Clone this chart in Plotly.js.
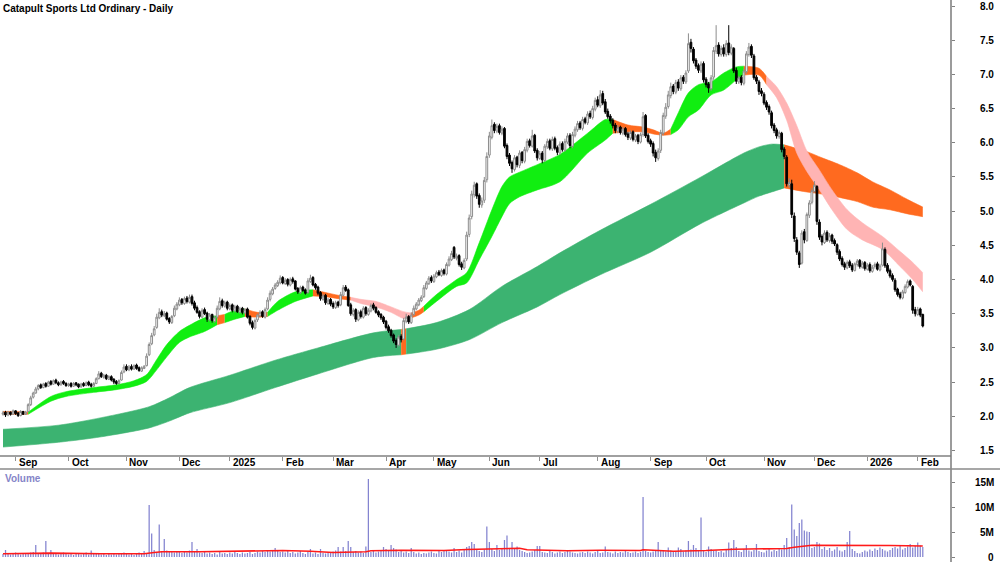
<!DOCTYPE html>
<html><head><meta charset="utf-8">
<script src="https://cdn.plot.ly/plotly-3.0.1.min.js"></script>
<style>html,body{margin:0;padding:0;background:#fff}#chart{width:1000px;height:562px}</style>
</head><body><div id="chart"></div>
<script>
// ---- Daily OHLC (A$), one value per trading day from 26 Aug 2024 ----
const openP = [
2.03,2.06,2.02,2.06,2.03,2.08,2.05,2.01,2.07,2.03,
2.07,2.17,2.28,2.34,2.40,2.46,2.42,2.48,2.44,2.51,
2.47,2.53,2.49,2.46,2.51,2.48,2.45,2.48,2.44,2.49,
2.47,2.43,2.48,2.45,2.50,2.47,2.44,2.48,2.55,2.63,
2.57,2.60,2.54,2.58,2.54,2.51,2.48,2.53,2.65,2.73,
2.68,2.73,2.69,2.75,2.71,2.66,2.70,2.74,2.90,3.06,
3.19,3.30,3.44,3.53,3.47,3.51,3.43,3.37,3.47,3.57,
3.63,3.71,3.65,3.73,3.67,3.75,3.66,3.59,3.53,3.45,
3.56,3.51,3.41,3.49,3.39,3.45,3.57,3.69,3.61,3.67,
3.57,3.63,3.54,3.61,3.52,3.58,3.51,3.57,3.46,3.37,
3.29,3.41,3.47,3.53,3.45,3.57,3.71,3.79,3.87,3.91,
3.95,4.03,3.94,4.00,3.92,4.01,3.98,3.87,3.81,3.89,
3.85,3.81,3.97,4.03,3.93,3.89,3.81,3.71,3.77,3.65,
3.71,3.65,3.59,3.67,3.63,3.77,3.89,3.85,3.63,3.49,
3.56,3.41,3.53,3.45,3.59,3.49,3.54,3.63,3.59,3.53,
3.49,3.45,3.39,3.31,3.26,3.19,3.11,3.04,3.17,3.13,
3.39,3.46,3.37,3.49,3.57,3.63,3.69,3.75,3.87,3.94,
4.03,3.97,4.04,4.11,4.06,4.14,4.08,4.21,4.29,4.47,
4.31,4.35,4.23,4.17,4.30,4.66,4.92,5.24,5.40,5.23,
5.09,5.16,5.46,5.82,6.08,6.27,6.17,6.25,6.14,6.21,
5.96,5.82,5.71,5.61,5.79,5.67,5.86,5.73,5.89,6.03,
5.95,6.11,5.89,5.77,5.85,5.74,5.94,6.03,5.91,6.06,
5.93,5.85,5.99,5.89,6.01,6.11,5.95,6.11,6.19,6.29,
6.21,6.35,6.29,6.43,6.37,6.49,6.63,6.54,6.72,6.60,
6.46,6.39,6.33,6.26,6.17,6.23,6.14,6.21,6.13,6.07,
6.16,6.04,6.11,6.01,6.12,6.40,6.11,6.03,5.99,5.86,
5.77,5.89,6.14,6.39,6.53,6.69,6.83,6.74,6.89,6.79,
6.96,6.89,7.05,7.47,7.37,7.21,7.13,7.05,7.16,6.93,
6.86,6.79,6.96,7.34,7.43,7.29,7.39,7.29,7.46,7.31,
7.38,7.06,6.89,6.96,6.87,7.04,7.29,7.41,7.27,6.96,
6.89,6.76,6.71,6.59,6.53,6.44,6.26,6.19,6.09,6.14,
5.91,5.79,5.38,5.40,4.93,4.58,4.39,4.24,4.70,4.57,
4.94,5.13,5.29,5.36,4.84,4.63,4.54,4.69,4.57,4.65,
4.57,4.51,4.41,4.31,4.23,4.17,4.26,4.21,4.13,4.22,
4.28,4.18,4.25,4.15,4.22,4.12,4.19,4.23,4.14,4.21,
4.44,4.21,4.13,4.06,3.99,3.86,3.79,3.73,3.81,3.89,
3.98,3.90,3.56,3.49,3.57,3.49];
const highP = [
2.08,2.08,2.08,2.07,2.10,2.09,2.06,2.09,2.08,2.08,
2.19,2.30,2.36,2.43,2.47,2.48,2.49,2.50,2.52,2.53,
2.54,2.55,2.51,2.52,2.53,2.50,2.49,2.50,2.50,2.50,
2.48,2.49,2.50,2.51,2.52,2.49,2.50,2.57,2.66,2.65,
2.62,2.62,2.60,2.60,2.56,2.53,2.54,2.67,2.76,2.76,
2.75,2.76,2.76,2.77,2.73,2.73,2.75,2.92,3.08,3.22,
3.32,3.50,3.58,3.56,3.54,3.53,3.45,3.48,3.62,3.67,
3.74,3.73,3.75,3.76,3.78,3.78,3.69,3.62,3.55,3.58,
3.59,3.53,3.51,3.50,3.47,3.62,3.74,3.72,3.69,3.69,
3.65,3.65,3.63,3.63,3.60,3.60,3.58,3.59,3.48,3.40,
3.43,3.50,3.55,3.55,3.59,3.74,3.84,3.89,3.95,3.99,
4.06,4.05,4.02,4.02,4.03,4.04,3.99,3.89,3.91,3.91,
3.87,4.02,4.07,4.05,3.95,3.91,3.83,3.79,3.79,3.73,
3.73,3.68,3.69,3.69,3.82,3.92,3.92,3.87,3.66,3.58,
3.58,3.55,3.56,3.61,3.61,3.58,3.65,3.66,3.61,3.55,
3.51,3.47,3.41,3.34,3.28,3.21,3.14,3.19,3.20,3.44,
3.50,3.48,3.52,3.62,3.67,3.73,3.77,3.92,3.98,4.05,
4.06,4.08,4.13,4.14,4.16,4.16,4.25,4.34,4.42,4.49,
4.38,4.37,4.26,4.31,4.70,4.95,5.30,5.43,5.42,5.26,
5.20,5.50,5.86,6.16,6.34,6.30,6.28,6.28,6.24,6.23,
5.99,5.85,5.74,5.82,5.81,5.89,5.88,5.94,6.06,6.06,
6.19,6.13,5.92,5.88,5.88,5.98,6.06,6.06,6.09,6.09,
5.96,6.02,6.02,6.06,6.14,6.14,6.16,6.24,6.32,6.32,
6.38,6.38,6.46,6.47,6.54,6.66,6.68,6.77,6.76,6.64,
6.50,6.42,6.36,6.29,6.26,6.25,6.23,6.23,6.16,6.18,
6.18,6.13,6.13,6.15,6.45,6.42,6.14,6.06,6.02,5.90,
5.92,6.19,6.44,6.58,6.76,6.88,6.86,6.92,6.93,6.99,
6.99,7.06,7.60,7.52,7.40,7.24,7.16,7.19,7.19,6.96,
6.89,6.99,7.40,7.72,7.47,7.42,7.44,7.50,7.72,7.44,
7.40,7.10,6.98,6.99,7.08,7.34,7.46,7.44,7.30,6.99,
6.92,6.80,6.74,6.62,6.56,6.47,6.29,6.22,6.18,6.16,
5.94,5.82,5.48,5.46,4.98,4.62,4.42,4.72,4.74,4.98,
5.16,5.34,5.44,5.38,4.88,4.66,4.72,4.72,4.68,4.67,
4.60,4.53,4.44,4.34,4.26,4.28,4.29,4.24,4.25,4.30,
4.30,4.27,4.27,4.24,4.25,4.21,4.25,4.26,4.23,4.54,
4.47,4.24,4.16,4.09,4.02,3.88,3.82,3.85,3.93,4.00,
4.00,3.92,3.60,3.60,3.59,3.50];
const lowP = [
2.01,1.99,2.00,2.01,2.02,2.02,1.99,2.00,2.02,2.02,
2.06,2.15,2.26,2.33,2.38,2.40,2.41,2.42,2.43,2.45,
2.46,2.47,2.44,2.45,2.46,2.43,2.43,2.42,2.43,2.44,
2.41,2.42,2.43,2.44,2.44,2.42,2.43,2.47,2.54,2.56,
2.55,2.53,2.53,2.51,2.47,2.46,2.47,2.52,2.63,2.66,
2.66,2.67,2.68,2.68,2.65,2.65,2.69,2.73,2.88,3.04,
3.17,3.28,3.42,3.45,3.45,3.40,3.35,3.35,3.45,3.55,
3.61,3.63,3.63,3.65,3.65,3.62,3.55,3.50,3.43,3.44,
3.48,3.38,3.39,3.37,3.37,3.43,3.55,3.59,3.59,3.55,
3.55,3.52,3.52,3.51,3.50,3.49,3.49,3.43,3.33,3.27,
3.27,3.38,3.45,3.44,3.43,3.55,3.68,3.77,3.85,3.89,
3.93,3.93,3.92,3.90,3.90,3.94,3.84,3.79,3.79,3.82,
3.78,3.79,3.95,3.90,3.85,3.77,3.69,3.69,3.63,3.63,
3.61,3.57,3.57,3.59,3.61,3.75,3.82,3.60,3.47,3.46,
3.38,3.39,3.43,3.43,3.47,3.47,3.52,3.55,3.50,3.45,
3.41,3.35,3.27,3.22,3.15,3.07,3.00,3.02,3.08,3.11,
3.36,3.35,3.35,3.47,3.55,3.61,3.67,3.73,3.85,3.92,
3.95,3.95,4.02,4.05,4.04,4.06,4.06,4.19,4.27,4.30,
4.28,4.19,4.14,4.15,4.27,4.62,4.88,5.20,5.18,5.05,
5.05,5.12,5.42,5.78,6.05,6.14,6.14,6.12,6.11,5.92,
5.76,5.66,5.56,5.58,5.64,5.63,5.70,5.70,5.86,5.93,
5.93,5.85,5.74,5.75,5.70,5.72,5.91,5.89,5.88,5.89,
5.82,5.82,5.87,5.87,5.98,5.92,5.92,6.08,6.16,6.19,
6.18,6.27,6.26,6.35,6.34,6.46,6.52,6.51,6.55,6.42,
6.35,6.28,6.21,6.14,6.14,6.12,6.11,6.09,6.04,6.04,
6.02,6.01,5.98,5.99,6.09,6.07,5.99,5.94,5.80,5.72,
5.74,5.85,6.11,6.35,6.50,6.65,6.71,6.71,6.76,6.76,
6.86,6.86,7.02,7.32,7.16,7.08,7.02,7.02,6.88,6.81,
6.73,6.76,6.92,7.30,7.26,7.26,7.26,7.26,7.28,7.28,
7.02,6.86,6.86,6.84,6.84,7.01,7.26,7.24,6.92,6.86,
6.70,6.68,6.55,6.48,6.41,6.21,6.14,6.06,6.06,5.86,
5.76,5.36,5.34,4.90,4.55,4.36,4.17,4.22,4.53,4.55,
4.90,5.10,5.27,4.80,4.58,4.50,4.52,4.55,4.54,4.52,
4.49,4.36,4.27,4.19,4.14,4.15,4.17,4.11,4.12,4.19,
4.16,4.16,4.13,4.13,4.10,4.10,4.16,4.13,4.12,4.19,
4.17,4.09,4.02,3.97,3.82,3.75,3.71,3.71,3.79,3.87,
3.90,3.50,3.46,3.47,3.45,3.30];
const closeP = [
2.05,2.02,2.06,2.03,2.08,2.04,2.01,2.07,2.03,2.06,
2.17,2.27,2.34,2.40,2.45,2.42,2.47,2.44,2.50,2.47,
2.52,2.49,2.46,2.50,2.48,2.45,2.47,2.44,2.48,2.46,
2.43,2.47,2.45,2.49,2.46,2.44,2.48,2.55,2.62,2.58,
2.60,2.55,2.58,2.53,2.50,2.48,2.52,2.64,2.72,2.68,
2.72,2.69,2.74,2.70,2.67,2.71,2.73,2.88,3.05,3.18,
3.28,3.45,3.52,3.48,3.50,3.42,3.38,3.46,3.58,3.64,
3.70,3.66,3.72,3.68,3.74,3.65,3.58,3.52,3.46,3.55,
3.50,3.42,3.48,3.40,3.44,3.58,3.68,3.62,3.66,3.58,
3.62,3.55,3.60,3.53,3.57,3.52,3.56,3.45,3.36,3.30,
3.40,3.48,3.52,3.46,3.56,3.70,3.80,3.86,3.92,3.96,
4.02,3.95,3.99,3.93,4.00,3.97,3.86,3.82,3.88,3.84,
3.80,3.98,4.02,3.92,3.88,3.80,3.72,3.76,3.66,3.70,
3.64,3.60,3.66,3.62,3.78,3.88,3.84,3.62,3.50,3.55,
3.42,3.52,3.46,3.58,3.50,3.55,3.62,3.58,3.52,3.48,
3.44,3.38,3.30,3.25,3.18,3.10,3.05,3.16,3.12,3.40,
3.45,3.38,3.48,3.58,3.64,3.70,3.74,3.88,3.95,4.02,
3.98,4.05,4.10,4.07,4.13,4.09,4.22,4.30,4.38,4.33,
4.34,4.22,4.18,4.28,4.65,4.90,5.25,5.38,5.22,5.10,
5.15,5.45,5.80,6.10,6.25,6.18,6.24,6.15,6.20,5.95,
5.80,5.70,5.62,5.78,5.68,5.85,5.74,5.90,6.02,5.96,
6.10,5.88,5.78,5.84,5.75,5.95,6.02,5.92,6.05,5.92,
5.86,5.98,5.90,6.02,6.10,5.96,6.12,6.20,6.28,6.22,
6.34,6.30,6.42,6.38,6.50,6.62,6.55,6.70,6.58,6.45,
6.38,6.32,6.25,6.18,6.22,6.15,6.20,6.12,6.08,6.15,
6.05,6.10,6.02,6.12,6.38,6.10,6.02,5.98,5.85,5.78,
5.88,6.15,6.40,6.52,6.70,6.82,6.75,6.88,6.80,6.95,
6.90,7.02,7.45,7.38,7.20,7.12,7.06,7.15,6.92,6.85,
6.80,6.95,7.35,7.42,7.30,7.38,7.30,7.45,7.32,7.40,
7.05,6.90,6.95,6.88,7.05,7.30,7.40,7.28,6.95,6.90,
6.75,6.72,6.58,6.52,6.45,6.25,6.18,6.10,6.15,5.90,
5.80,5.40,5.42,4.95,4.60,4.40,4.22,4.68,4.58,4.95,
5.12,5.30,5.38,4.85,4.62,4.55,4.68,4.58,4.64,4.56,
4.52,4.40,4.30,4.22,4.18,4.25,4.20,4.14,4.23,4.27,
4.19,4.24,4.16,4.21,4.13,4.18,4.22,4.15,4.20,4.45,
4.20,4.12,4.05,4.00,3.85,3.78,3.74,3.82,3.90,3.97,
3.92,3.55,3.50,3.56,3.48,3.32];
// ---- Daily volume, millions of shares ----
const volumeM = [
0.6,1.4,0.8,0.5,0.7,0.9,0.6,0.5,0.8,0.6,
0.7,0.9,1.0,2.4,0.8,0.6,0.9,3.2,0.7,1.4,
0.6,0.8,0.5,0.7,0.9,0.6,0.5,0.8,0.4,0.6,
0.7,0.5,0.6,0.9,0.5,1.3,0.7,0.6,0.8,0.5,
0.6,0.4,0.7,0.5,0.6,0.5,0.8,0.6,0.9,0.7,
0.5,0.6,0.4,0.7,0.9,0.6,1.2,0.8,10.4,4.7,
1.4,0.9,6.5,1.2,3.6,1.3,1.1,1.2,0.9,1.0,
1.2,0.8,1.1,0.9,1.3,3.0,1.2,1.6,0.9,0.8,
1.1,0.7,0.9,0.6,0.8,0.5,1.0,0.7,0.8,0.6,
0.9,0.7,1.1,0.8,0.6,0.9,0.7,0.8,1.0,0.6,
0.8,1.1,0.9,1.2,1.0,1.3,1.1,1.4,1.8,1.2,
1.0,1.1,0.9,1.3,0.8,1.0,0.7,0.9,1.2,0.8,
0.6,1.0,1.6,0.7,0.9,0.6,1.6,0.8,0.7,0.9,
1.0,1.1,1.3,2.0,1.1,2.0,1.2,3.2,2.0,1.0,
1.2,0.9,1.1,0.8,2.1,15.6,1.0,1.2,0.9,1.1,
1.3,2.0,1.6,1.4,2.4,1.8,1.5,1.0,1.3,0.9,
1.1,0.8,1.8,1.0,0.7,0.9,0.6,0.8,0.7,0.9,
1.1,0.8,0.7,1.2,1.0,1.4,1.2,1.1,0.9,1.8,
1.0,1.3,0.9,1.6,2.0,2.2,3.0,2.6,1.4,1.2,
1.0,1.5,6.1,3.0,1.6,1.2,2.4,1.4,1.8,3.4,
4.3,1.8,3.0,1.6,2.1,1.4,1.2,1.0,0.8,0.9,
1.1,1.4,2.2,2.2,1.0,0.9,0.8,1.2,1.0,0.7,
0.9,1.1,0.8,1.0,1.2,1.1,0.9,0.8,0.7,0.9,
1.0,0.8,1.1,0.9,0.7,1.0,1.2,0.8,0.9,2.1,
1.0,0.9,0.7,1.1,0.8,1.0,0.9,1.2,1.0,0.8,
0.9,1.1,0.8,1.0,12.0,1.2,1.0,0.9,1.1,1.3,
3.0,1.2,1.4,1.1,1.9,1.3,1.0,1.2,1.9,1.6,
1.1,1.3,3.2,1.5,2.4,1.8,1.2,7.9,1.4,1.0,
2.1,1.6,1.2,1.3,1.0,1.2,0.9,1.4,2.9,1.8,
3.4,2.0,1.2,1.0,1.6,2.4,1.3,1.1,1.4,2.6,
1.2,1.0,0.9,1.3,1.6,1.1,1.4,1.2,1.8,1.5,
2.4,3.8,2.0,10.5,5.5,4.2,6.8,7.5,5.3,5.1,
5.0,1.8,2.0,3.0,2.7,1.6,2.0,1.4,1.8,1.2,
1.5,2.0,1.3,1.1,1.4,3.0,5.2,1.6,1.2,0.8,
0.7,1.0,1.3,1.1,1.5,1.2,1.7,1.4,1.9,1.6,
1.3,1.1,1.4,1.8,2.0,1.7,2.4,1.5,1.8,2.1,
2.6,1.9,2.2,2.9,2.3,2.0];
// ---- Volume moving average (red line), read at sample days ----
const volMaIdx = [0,19,39,56,60,63,78,91,111,122,131,144,146,158,175,184,195,205,208,224,237,253,254,266,279,290,311,314,321,339,352,365];
const volMa    = [0.65,0.78,0.65,0.65,0.9,1.05,1.05,1.1,1.3,1.15,0.9,1.05,1.25,1.35,1.3,1.5,1.6,1.75,1.45,1.25,1.35,1.3,1.45,1.15,1.3,1.55,1.7,1.95,2.35,2.4,2.3,2.2];
// ---- Short-term MMA ribbon (upper / lower edge), g=bull, o=mixed, p=bear ----
const shortIdx   = [0,5,10,19,25,36,45,52,57,61,65,70,74,80,85,88,92,96,101,105,109,116,123,128,133,138,142,148,154,159,162,165,167,172,180,184,189,194,198,201,205,212,221,232,239,242,248,254,258,262,265,268,272,276,281,286,291,294,300,303,307,311,315,319,324,329,335,341,349,356,361,365];
const shortUpper = [2.07,2.07,2.06,2.29,2.36,2.42,2.46,2.52,2.61,2.83,3.05,3.24,3.33,3.44,3.47,3.49,3.55,3.57,3.52,3.52,3.68,3.82,3.85,3.81,3.77,3.74,3.71,3.68,3.60,3.53,3.51,3.55,3.61,3.78,4.00,4.10,4.54,5.02,5.36,5.50,5.57,5.68,5.83,6.14,6.34,6.34,6.26,6.23,6.19,6.14,6.20,6.44,6.73,6.85,6.89,7.02,7.11,7.12,7.09,6.97,6.82,6.58,6.25,5.88,5.60,5.31,5.02,4.83,4.63,4.41,4.25,4.10];
const shortLower = [2.03,2.03,2.03,2.22,2.29,2.35,2.39,2.44,2.51,2.68,2.87,3.08,3.16,3.24,3.34,3.37,3.42,3.46,3.45,3.46,3.55,3.68,3.76,3.75,3.72,3.70,3.65,3.60,3.52,3.43,3.44,3.48,3.53,3.68,3.90,3.95,4.29,4.63,4.92,5.11,5.21,5.31,5.43,5.85,6.04,6.14,6.16,6.16,6.13,6.11,6.12,6.19,6.38,6.48,6.70,6.77,6.92,6.99,6.99,6.85,6.66,6.33,5.85,5.58,5.31,5.02,4.73,4.58,4.44,4.19,4.00,3.82];
const shortState = ['o','o','g','g','g','g','g','g','g','g','g','g','g','g','o','g','g','o','o','g','g','g','o','o','o','p','p','p','p','p','o','o','g','g','g','g','g','g','g','g','g','g','g','g','g','o','o','o','o','o','g','g','g','g','g','g','g','o','o','p','p','p','p','p','p','p','p','p','p','p','p',''];
// ---- Long-term MMA ribbon ----
const longIdx   = [0,22,39,58,66,74,90,108,125,147,158,160,172,185,198,212,221,237,257,277,294,300,305,310,319,325,332,339,345,352,359,365];
const longUpper = [1.81,1.87,1.98,2.14,2.27,2.42,2.60,2.82,3.00,3.22,3.27,3.28,3.37,3.56,3.90,4.19,4.39,4.72,5.10,5.50,5.85,5.94,5.98,5.97,5.87,5.78,5.68,5.56,5.43,5.31,5.17,5.06];
const longLower = [1.55,1.62,1.70,1.83,1.93,2.05,2.20,2.42,2.62,2.86,2.90,2.91,2.98,3.12,3.37,3.60,3.78,4.07,4.40,4.82,5.12,5.22,5.28,5.34,5.28,5.25,5.20,5.14,5.06,5.02,4.96,4.92];
const longState = ['g','g','g','g','g','g','g','g','g','g','o','g','g','g','g','g','g','g','g','g','g','g','g','o','o','o','o','o','o','o','o',''];
// ---- Axis ticks / labels ----
const monthStartIdx = [5,26,49,70,90,111,131,152,171,193,213,236,257,279,302,322,343,363];
const monthLabels = ['Sep','Oct','Nov','Dec','2025','Feb','Mar','Apr','May','Jun','Jul','Aug','Sep','Oct','Nov','Dec','2026','Feb'];
const priceTicks = [1.5,2.0,2.5,3.0,3.5,4.0,4.5,5.0,5.5,6.0,6.5,7.0,7.5,8.0];
const volTicks = [0,5,10,15];
const volTickText = ['0','5M','10M','15M'];

const W = 1000, H = 562, PLOT_R = 951;
const px = y => 1 - y / H;              // pixel row -> paper fraction
const dayIdx = closeP.map((_, i) => i);
const XR = [-1.19, 376.2];
const PR = [1.434, 8.088];
const VR = [-1.0, 17.6];

function ribbon(idx, up, lo, st, colors, yaxis) {
  const out = [];
  let k = 0;
  while (k < idx.length - 1) {
    const s = st[k];
    let e = k;
    while (e < idx.length - 1 && st[e] === s) e++;
    const xs = idx.slice(k, e + 1);
    out.push({type:'scatter', mode:'lines', x:xs, y:lo.slice(k, e + 1), xaxis:'x', yaxis:yaxis,
      line:{width:0.6, color:colors[s], shape:'spline', smoothing:0.8}, hoverinfo:'skip', showlegend:false});
    out.push({type:'scatter', mode:'lines', x:xs, y:up.slice(k, e + 1), xaxis:'x', yaxis:yaxis,
      line:{width:0.6, color:colors[s], shape:'spline', smoothing:0.8}, fill:'tonexty', fillcolor:colors[s],
      hoverinfo:'skip', showlegend:false});
    k = e;
  }
  return out;
}

const traces = [];
traces.push(...ribbon(longIdx, longUpper, longLower, longState, {g:'#3cb371', o:'#ff6a1f'}, 'y'));
traces.push(...ribbon(shortIdx, shortUpper, shortLower, shortState, {g:'#11ee11', o:'#ff6a1f', p:'#ffb4b4'}, 'y'));
traces.push({type:'candlestick', x:dayIdx, open:openP, high:highP, low:lowP, close:closeP,
  xaxis:'x', yaxis:'y2', whiskerwidth:0,
  increasing:{line:{color:'#8c8c8c', width:1}, fillcolor:'#ffffff'},
  decreasing:{line:{color:'#000000', width:1}, fillcolor:'#000000'},
  hoverinfo:'skip', showlegend:false});
traces.push({type:'bar', x:dayIdx, y:volumeM, xaxis:'x2', yaxis:'y3', width:0.5,
  marker:{color:'#8484d0', line:{width:0}}, hoverinfo:'skip', showlegend:false});
traces.push({type:'scatter', mode:'lines', x:volMaIdx, y:volMa, xaxis:'x2', yaxis:'y3',
  line:{color:'#ff1a1a', width:1.6}, hoverinfo:'skip', showlegend:false});

const annotations = [];
monthStartIdx.forEach((ix, k) => annotations.push({xref:'x', yref:'paper', x:ix, y:px(462),
  text:'<b>' + monthLabels[k] + '</b>', xanchor:'left', yanchor:'middle', xshift:1, showarrow:false,
  font:{size:10, color:'#000'}}));
priceTicks.forEach(v => annotations.push({xref:'paper', yref:'y', x:996 / PLOT_R, y:v,
  text:'<b>' + v.toFixed(1) + '</b>', xanchor:'right', yanchor:'middle', showarrow:false, font:{size:10, color:'#000'}}));
volTicks.forEach((v, k) => annotations.push({xref:'paper', yref:'y3', x:996 / PLOT_R, y:v,
  text:'<b>' + volTickText[k] + '</b>', xanchor:'right', yanchor:'middle', showarrow:false, font:{size:10, color:'#000'}}));
annotations.push({xref:'paper', yref:'paper', x:3 / PLOT_R, y:px(478), text:'<b>Volume</b>',
  xanchor:'left', yanchor:'middle', showarrow:false, font:{size:10, color:'#8585c8'}});

const layout = {
  width:W, height:H, margin:{l:0, r:W - PLOT_R, t:0, b:0},
  paper_bgcolor:'#ffffff', plot_bgcolor:'rgba(0,0,0,0)', showlegend:false, hovermode:false,
  boxgap:0.02,
  font:{family:'"Liberation Sans", Arial, sans-serif', size:10, color:'#000'},
  title:{text:'<b>Catapult Sports Ltd Ordinary - Daily</b>', xref:'container', yref:'container',
    x:3 / W, xanchor:'left', y:px(8), yanchor:'middle', font:{size:10, color:'#000'}},
  xaxis:{domain:[0, 1], range:XR, anchor:'y', showline:true, linecolor:'#a0a0a0', linewidth:2,
    ticks:'outside', ticklen:4, tickcolor:'#909090', tickwidth:1, tickvals:monthStartIdx,
    showticklabels:false, showgrid:false, zeroline:false, rangeslider:{visible:false}, fixedrange:true},
  yaxis:{domain:[px(455), 1], range:PR, anchor:'x', side:'right', showline:false,
    ticks:'outside', ticklen:3, tickcolor:'#808080', tickvals:priceTicks, showticklabels:false,
    showgrid:false, zeroline:false, fixedrange:true},
  yaxis2:{overlaying:'y', anchor:'x', side:'right', range:PR, visible:false, fixedrange:true},
  xaxis2:{domain:[0, 1], range:XR, anchor:'y3', visible:false, fixedrange:true},
  yaxis3:{domain:[0, px(469)], range:VR, anchor:'x2', side:'right', showline:false,
    ticks:'outside', ticklen:3, tickcolor:'#808080', tickvals:volTicks, showticklabels:false,
    showgrid:false, zeroline:false, fixedrange:true},
  shapes:[
    {type:'line', xref:'paper', yref:'paper', x0:1, x1:1, y0:0, y1:1, line:{color:'#7a7a7a', width:1.5}},
    {type:'line', xref:'paper', yref:'paper', x0:0, x1:W / PLOT_R, y0:px(469), y1:px(469), line:{color:'#8a8a8a', width:1.5}}
  ],
  annotations:annotations
};
Plotly.newPlot('chart', traces, layout, {staticPlot:true, displayModeBar:false});
</script>
</body></html>
